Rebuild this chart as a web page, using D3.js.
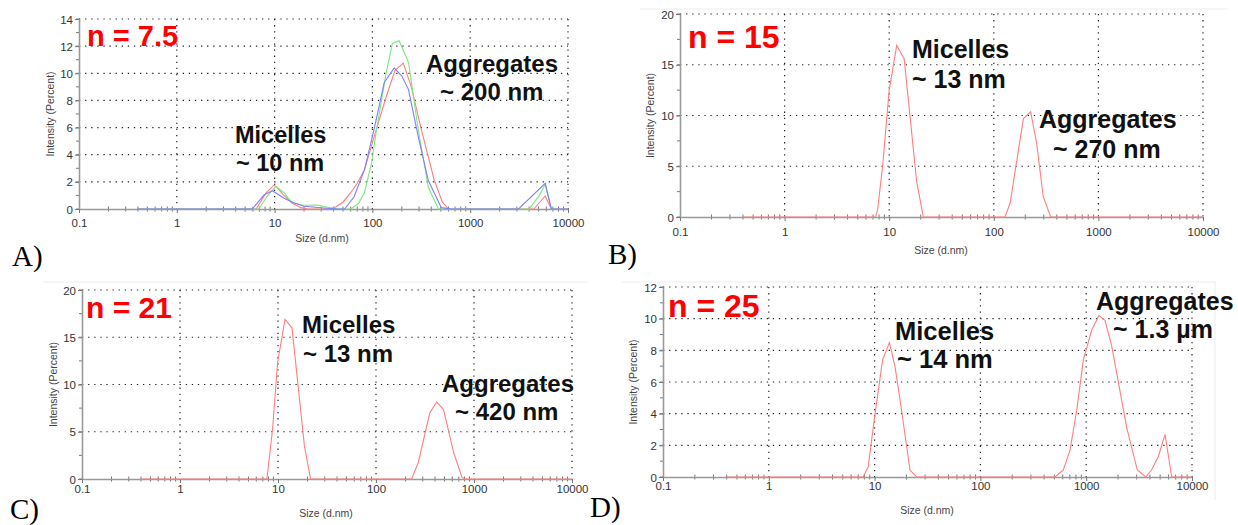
<!DOCTYPE html>
<html>
<head>
  <meta charset="utf-8">
  <script src="https://d3js.org/d3.v7.min.js"></script>
  <style>
    body { margin: 0; background: #fff; }
    svg { display: block; }
    .tick text, .ticklab { font-family: "Liberation Sans", Arial, sans-serif; font-size: 11.5px; fill: #333; }
    .axtitle { font-family: "Liberation Sans", Arial, sans-serif; font-size: 10.5px; fill: #444; }
    .note { font-family: "Liberation Sans", Arial, sans-serif; font-weight: bold; fill: #111; }
    .nlab { font-family: "Liberation Sans", Arial, sans-serif; font-weight: bold; fill: #ff0000; }
    .letter { font-family: "Liberation Serif", "Times New Roman", serif; font-size: 29px; fill: #000; }
    .grid { stroke: #222; stroke-width: 1.2; stroke-dasharray: 1.3,4.8; fill: none; }
    .curve { fill: none; stroke-width: 1.1; }
  </style>
</head>
<body>
<div id="plot"></div>
<script>
// size (d.nm) vs intensity (%) pairs
var aRed = [[0.4,0],[6.5,0],[8.1,1.15],[9.9,1.77],[12.4,1.03],[15,0.44],[18.6,0.1],[22,0],[36,0],[42,0.15],
  [50,0.5],[60,1.2],[70,1.9],[83,2.9],[104,5.3],[138,8.25],[170,10.2],[207,10.75],[250,9.0],[318,5.8],
  [430,2.1],[520,0.5],[600,0],[4470,0],[5850,0.96],[6750,0],[10000,0]];
var aGreen = [[0.4,0],[6.9,0],[8.3,0.9],[10.3,1.65],[12.5,1.2],[14.7,0.54],[19.3,0.28],[27.6,0.3],[35,0.13],
  [44,0],[60,0],[72,0.4],[83,1.2],[98,3.4],[110,5.8],[138,10.0],[160,12.2],[188,12.4],[234,10.8],
  [295,5.8],[373,1.6],[473,0],[3980,0],[5000,0.91],[5850,1.8],[6750,0],[10000,0]];
var aBlue = [[0.4,0],[5.9,0],[7.8,1.03],[9.5,1.35],[12.5,0.79],[15.8,0.44],[20,0.2],[32,0.07],[44,0],
  [52,0],[65,0.9],[83,2.9],[105,6.0],[132,9.3],[167,10.4],[200,9.8],[234,8.8],[295,5.3],[373,2.1],
  [507,0.1],[640,0],[3120,0],[5850,1.89],[6750,0],[10000,0]];
var bRed = [[0.4,0],[7.4,0],[7.75,0.7],[8.7,5.3],[10,12.5],[11.8,16.9],[13.9,15.6],[18.3,3.5],[21.2,0],
  [128,0],[143,1.35],[192,9.7],[225,10.37],[257,7.26],[297,2.0],[350,0],[10000,0]];
var cRed = [[0.4,0],[7.7,0],[8.8,5.26],[9.9,12.3],[11.8,16.9],[13.9,15.97],[18.6,3.5],[21.5,0],
  [231,0],[270,1.75],[354,7.0],[415,8.14],[488,7.37],[620,2.8],[753,0.2],[810,0],[10000,0]];
var dRed = [[0.4,0],[7.8,0],[8.7,0.65],[10.1,4.0],[11.9,7.4],[13.8,8.49],[15.6,6.97],[18,4.2],[21.6,0.44],
  [25,0],[507,0],[608,0.44],[703,1.7],[813,4.2],[940,7.4],[1127,9.28],[1320,10.2],[1505,9.9],[1740,8.3],
  [2000,6.1],[2400,3.2],[3040,0.44],[3650,0],[4150,0.44],[4800,1.28],[5560,2.69],[6430,0],[10000,0]];

var xTicks = [0.1, 1, 10, 100, 1000, 10000];
var yTicksA = [0, 2, 4, 6, 8, 10, 12, 14];
var yTicksB = [0, 5, 10, 15, 20];
var yTicksC = [0, 5, 10, 15, 20];
var yTicksD = [0, 2, 4, 6, 8, 10, 12];
var xTitle = "Size (d.nm)", yTitle = "Intensity (Percent)";

var colors = {red: "#ff7e7e", green: "#7ce87c", blue: "#7e7eff"};

var svg = d3.select('#plot').append('svg')
  .attr('width', 1238)
  .attr('height', 525);

// faint frame edges of the pasted screenshots
var frame = [[640,9,1228,9],[43,282,588,282],[622,282,1215,282],[1215,282,1215,500]];
svg.selectAll('.frame').data(frame).enter().append('line')
  .attr('x1', function(d){ return d[0]; }).attr('y1', function(d){ return d[1]; })
  .attr('x2', function(d){ return d[2]; }).attr('y2', function(d){ return d[3]; })
  .style('stroke', '#ececec').style('stroke-width', 1);

var panels = [
  {x0: 79, x1: 568, top: 19, bot: 209, yTicks: yTicksA, minorStep: 1, labDy: 18, titleY: 242, titleX: 322, yTitleX: 50,
   series: [{d: aRed, c: colors.red}, {d: aGreen, c: colors.green}, {d: aBlue, c: colors.blue}],
   n: "n = 7.5", nSize: 29, nX: 87, nY: 46, letter: "A)", lx: 12, ly: 266,
   notes: [{t: "Micelles", x: 235, y: 143, s: 23.5}, {t: "~ 10 nm", x: 236, y: 171, s: 23.5},
           {t: "Aggregates", x: 426, y: 72, s: 24}, {t: "~ 200 nm", x: 440, y: 100, s: 24}]},
  {x0: 680, x1: 1203, top: 14, bot: 217, yTicks: yTicksB, minorStep: 2.5, labDy: 19, titleY: 254, titleX: 941, yTitleX: 650,
   series: [{d: bRed, c: colors.red}],
   n: "n = 15", nSize: 32, nX: 688, nY: 48, letter: "B)", lx: 608, ly: 264,
   notes: [{t: "Micelles", x: 912, y: 58, s: 25}, {t: "~ 13 nm", x: 912, y: 88, s: 25},
           {t: "Aggregates", x: 1039, y: 128, s: 25}, {t: "~ 270 nm", x: 1053, y: 158, s: 25}]},
  {x0: 82, x1: 572, top: 290, bot: 479, yTicks: yTicksC, minorStep: 2.5, labDy: 14, titleY: 517, titleX: 326, yTitleX: 53,
   series: [{d: cRed, c: colors.red}],
   n: "n = 21", nSize: 30, nX: 86, nY: 318, letter: "C)", lx: 10, ly: 519,
   notes: [{t: "Micelles", x: 302, y: 333, s: 24}, {t: "~ 13 nm", x: 303, y: 362, s: 24},
           {t: "Aggregates", x: 442, y: 392, s: 24}, {t: "~ 420 nm", x: 455, y: 420, s: 24}]},
  {x0: 663, x1: 1192, top: 287, bot: 477, yTicks: yTicksD, minorStep: 1, labDy: 13, titleY: 514, titleX: 927, yTitleX: 633,
   series: [{d: dRed, c: colors.red}],
   n: "n = 25", nSize: 32, nX: 668, nY: 317, letter: "D)", lx: 590, ly: 517,
   notes: [{t: "Micelles", x: 895, y: 340, s: 25.5}, {t: "~ 14 nm", x: 897, y: 368, s: 25.5},
           {t: "Aggregates", x: 1096, y: 310, s: 25}, {t: "~ 1.3 µm", x: 1113, y: 338, s: 25}]}
];

panels.forEach(function(p){
  var g = svg.append('g');
  var yMax = p.yTicks[p.yTicks.length - 1];

  var x = d3.scaleLog().domain([0.1, 10000]).range([p.x0, p.x1]);
  var y = d3.scaleLinear().domain([0, yMax]).range([p.bot, p.top]);

  // dotted grid
  g.selectAll('.hgrid').data(p.yTicks.slice(1)).enter().append('line')
    .attr('class', 'grid')
    .attr('x1', p.x0).attr('x2', p.x1)
    .attr('y1', function(d){ return y(d); }).attr('y2', function(d){ return y(d); });
  g.selectAll('.vgrid').data(xTicks.slice(1)).enter().append('line')
    .attr('class', 'grid')
    .attr('y1', p.top).attr('y2', p.bot)
    .attr('x1', function(d){ return x(d); }).attr('x2', function(d){ return x(d); });

  // minor ticks
  var xMinor = [];
  for (var e = -1; e < 4; e++) for (var m = 2; m < 10; m++) xMinor.push(m * Math.pow(10, e));
  g.selectAll('.xminor').data(xMinor).enter().append('line')
    .attr('x1', function(d){ return x(d); }).attr('x2', function(d){ return x(d); })
    .attr('y1', p.bot - 2.5).attr('y2', p.bot + 2.5)
    .style('stroke', '#777');
  var yMinor = d3.range(0, yMax + 0.01, p.minorStep);
  g.selectAll('.yminor').data(yMinor).enter().append('line')
    .attr('x1', p.x0 - 3).attr('x2', p.x0 + 1)
    .attr('y1', function(d){ return y(d); }).attr('y2', function(d){ return y(d); })
    .style('stroke', '#777');

  // axes
  var xAxis = g.append('g')
    .attr('transform', 'translate(0,' + p.bot + ')')
    .call(d3.axisBottom(x).tickValues(xTicks).tickSize(4).tickSizeOuter(0)
      .tickFormat(function(d){ return String(d); }));
  xAxis.selectAll('text').attr('y', p.labDy).attr('dy', 0);

  var yAxis = g.append('g')
    .attr('transform', 'translate(' + p.x0 + ',0)')
    .call(d3.axisLeft(y).tickValues(p.yTicks).tickSize(4).tickSizeOuter(0).tickPadding(2));
  yAxis.selectAll('text').attr('dy', '0.36em');

  [xAxis, yAxis].forEach(function(a){
    a.select('.domain').style('stroke', '#999').style('stroke-width', 1.6);
    a.selectAll('.tick line').style('stroke', '#777');
  });

  // curves
  var line = d3.line()
    .x(function(d){ return x(d[0]); })
    .y(function(d){ return y(d[1]); });
  p.series.forEach(function(s){
    g.append('path').datum(s.d)
      .attr('class', 'curve')
      .attr('d', line)
      .style('stroke', s.c);
  });

  // axis titles
  g.append('text').attr('class', 'axtitle')
    .attr('x', p.titleX).attr('y', p.titleY)
    .style('text-anchor', 'middle')
    .text(xTitle);
  g.append('text').attr('class', 'axtitle')
    .attr('transform', 'translate(' + (p.yTitleX + 4) + ',' + ((p.top + p.bot) / 2) + ') rotate(-90)')
    .style('text-anchor', 'middle')
    .text(yTitle);

  // labels
  g.append('text').attr('class', 'nlab')
    .attr('x', p.nX).attr('y', p.nY)
    .style('font-size', p.nSize + 'px')
    .text(p.n);
  g.selectAll('.note').data(p.notes).enter().append('text')
    .attr('class', 'note')
    .attr('x', function(d){ return d.x; })
    .attr('y', function(d){ return d.y; })
    .style('font-size', function(d){ return d.s + 'px'; })
    .text(function(d){ return d.t; });

  svg.append('text').attr('class', 'letter')
    .attr('x', p.lx).attr('y', p.ly)
    .text(p.letter);
});
</script>
</body>
</html>
